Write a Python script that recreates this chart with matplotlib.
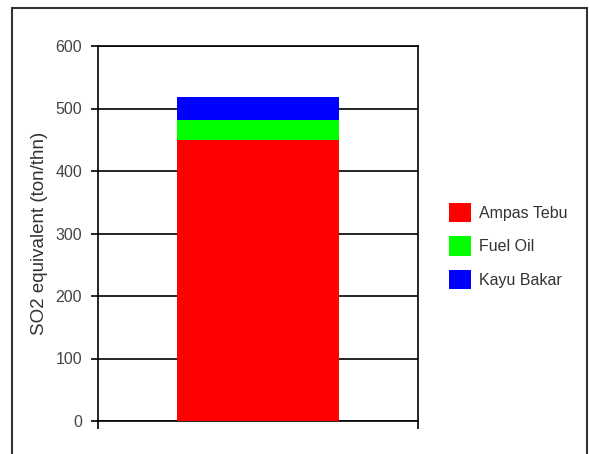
import matplotlib
matplotlib.use("Agg")
import matplotlib.pyplot as plt
from matplotlib.patches import Rectangle

plt.rcParams['font.family'] = ['Liberation Sans', 'DejaVu Sans']

# data
categories = ['']
series = ['Ampas Tebu', 'Fuel Oil', 'Kayu Bakar']
values = [[450], [31], [38]]
colors = ['#ff0000', '#00ff00', '#0000ff']
yticks = [0, 100, 200, 300, 400, 500, 600]

fig = plt.figure(figsize=(5.89, 4.54), dpi=100)
ax = fig.add_axes([98/589, 1 - 421/454, 320/589, 375/454])

# outer frame of the picture
fig.patches.append(Rectangle((12/589, -0.02), 575/589, 1 - 8/454 + 0.02,
                             transform=fig.transFigure, fill=False,
                             edgecolor='#333333', linewidth=1.5))

bottom = [0]
for name, v, c in zip(series, values, colors):
    ax.bar(0, v[0], width=0.506, bottom=bottom[0], color=c, label=name, zorder=3)
    bottom[0] += v[0]

ax.set_xlim(-0.5, 0.5)
ax.set_ylim(0, 600)
ax.set_yticks(yticks)
ax.set_xticks([-0.5, 0.5])
ax.set_xticklabels(['', ''])
ax.grid(axis='y', color='black', linewidth=1.2, zorder=1)
ax.set_axisbelow(True)
for s in ax.spines.values():
    s.set_linewidth(1.2)
ax.tick_params(axis='y', length=5, width=1.2, pad=6.5, labelsize=11.5, labelcolor='#444444')
ax.tick_params(axis='x', length=6, width=1.2)
ax.set_ylabel('SO2 equivalent (ton/thn)', fontsize=13.5, color='#333333', labelpad=5.5)

leg = ax.legend(loc='center left', bbox_to_anchor=(1.052, 0.467), frameon=False,
                fontsize=11.5, handlelength=1.375, handleheight=1.5,
                labelspacing=0.88, handletextpad=0.5, borderpad=0.4)
for t in leg.get_texts():
    t.set_color('#333333')

fig.savefig('out.png', dpi=100)
